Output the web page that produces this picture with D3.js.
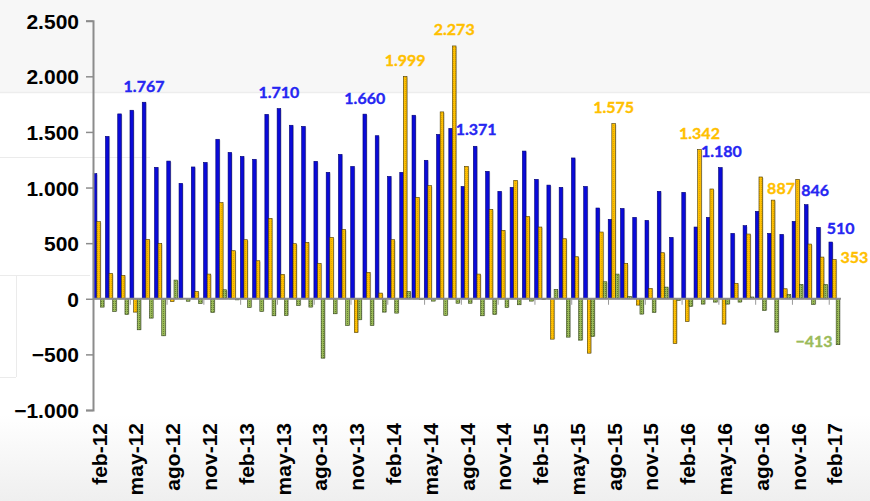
<!DOCTYPE html>
<html><head><meta charset="utf-8">
<script src="https://cdn.jsdelivr.net/npm/d3@7"></script>
<style>html,body{margin:0;padding:0;background:#fff;}svg{display:block;}</style>
</head><body>
<svg id="chart" width="870" height="501"></svg>
<script>
// ---- data ----
const months = ["feb-12","mar-12","abr-12","may-12","jun-12","jul-12","ago-12","sep-12","oct-12","nov-12","dic-12","ene-13",
"feb-13","mar-13","abr-13","may-13","jun-13","jul-13","ago-13","sep-13","oct-13","nov-13","dic-13","ene-14",
"feb-14","mar-14","abr-14","may-14","jun-14","jul-14","ago-14","sep-14","oct-14","nov-14","dic-14","ene-15",
"feb-15","mar-15","abr-15","may-15","jun-15","jul-15","ago-15","sep-15","oct-15","nov-15","dic-15","ene-16",
"feb-16","mar-16","abr-16","may-16","jun-16","jul-16","ago-16","sep-16","oct-16","nov-16","dic-16","ene-17","feb-17"];
const blueValues = [1125,1460,1662,1695,1767,1182,1238,1038,1185,1226,1434,1316,
1280,1254,1658,1710,1560,1550,1236,1137,1298,1190,1660,1466,
1100,1137,1650,1245,1478,1532,1010,1371,1146,966,1002,1328,
1074,1022,1002,1266,1010,816,714,812,732,705,966,552,
957,645,732,1180,588,657,786,588,579,696,846,642,510];
const orangeValues = [693,228,210,-120,534,498,-25,0,66,222,864,432,
531,342,723,219,495,507,318,552,624,-303,237,51,
531,1999,912,1017,1680,2273,1191,222,804,615,1065,741,
645,-363,540,378,-489,600,1575,318,-57,93,414,-402,
-204,1342,987,-228,138,582,1095,887,90,1074,492,375,353];
const greenValues = [-75,-114,-141,-279,-174,-333,168,-22,-42,-123,81,-10,
-78,-114,-153,-150,-60,-75,-534,-135,-240,-189,-240,-120,
-129,66,-8,-21,-150,-40,-40,-153,-141,-78,-54,-21,
-8,84,-345,-372,-339,153,222,22,-138,-123,105,-15,
-69,-48,-30,-48,-30,16,-105,-300,39,129,-51,129,-413];
const seriesNames = ["blue","orange","green"];
const yTicks = [-1000,-500,0,500,1000,1500,2000,2500];
const labelledPoints = [ // series, month index
  ["blue",4],["blue",15],["blue",22],["blue",31],["blue",51],["blue",58],["blue",60],
  ["orange",25],["orange",29],["orange",42],["orange",49],["orange",55],["orange",60],
  ["green",60]
];
// label offsets (layout only)
const labelOffsets = {
  "blue-4":[0,-17],"blue-15":[0,-17],"blue-22":[0,-17],"blue-31":[1,-18],"blue-51":[1,-17],"blue-58":[9,-15],"blue-60":[10,-15],
  "orange-25":[0,-17],"orange-29":[0,-17],"orange-42":[0,-17],"orange-49":[0,-17],"orange-55":[8,-13],"orange-60":[20,-3],
  "green-60":[-24,-4]
};

// ---- layout ----
const svg = d3.select("#chart");
const W = 870, H = 501;
const colors = {blue:"#0a0ad8", orange:"#ffc000", green:"#94b356"};
const labelColors = {blue:"#2626f2", orange:"#ffc000", green:"#9bbb59"};
const valuesBySeries = {blue:blueValues, orange:orangeValues, green:greenValues};

// background artifacts
const defs = svg.append("defs");
const bg = defs.append("linearGradient").attr("id","bottomGrad").attr("x1",0).attr("y1",0).attr("x2",0).attr("y2",1);
bg.append("stop").attr("offset","0%").attr("stop-color","#ffffff");
bg.append("stop").attr("offset","100%").attr("stop-color","#efefef");
svg.append("rect").attr("x",0).attr("y",0).attr("width",W).attr("height",H).attr("fill","#fff");
svg.append("rect").attr("x",0).attr("y",0).attr("width",W).attr("height",92).attr("fill","#f7f7f7");
svg.append("line").attr("x1",0).attr("x2",W).attr("y1",92.5).attr("y2",92.5).attr("stroke","#ededed").attr("stroke-width",1.5);
svg.append("rect").attr("x",0).attr("y",415).attr("width",W).attr("height",H-415).attr("fill","url(#bottomGrad)");
svg.append("line").attr("x1",0).attr("x2",150).attr("y1",157.5).attr("y2",157.5).attr("stroke","#ebebeb");
svg.append("line").attr("x1",0).attr("x2",90).attr("y1",275.5).attr("y2",275.5).attr("stroke","#ebebeb");
svg.append("line").attr("x1",16.5).attr("x2",16.5).attr("y1",275).attr("y2",377).attr("stroke","#ebebeb");
svg.append("line").attr("x1",0).attr("x2",16).attr("y1",377.5).attr("y2",377.5).attr("stroke","#ebebeb");

// patterns
const pO = defs.append("pattern").attr("id","patOrange").attr("patternUnits","userSpaceOnUse").attr("width",2).attr("height",2);
pO.append("rect").attr("width",2).attr("height",2).attr("fill","#ffc000");
pO.append("rect").attr("x",1).attr("y",1).attr("width",0.8).attr("height",0.8).attr("fill","#b07a00").attr("opacity",0.6);
const pG = defs.append("pattern").attr("id","patGreen").attr("patternUnits","userSpaceOnUse").attr("width",2).attr("height",2);
pG.append("rect").attr("width",2).attr("height",2).attr("fill","#9bbb59");
pG.append("rect").attr("x",1).attr("y",1).attr("width",0.9).attr("height",0.9).attr("fill","#3e5219").attr("opacity",0.7);
const fills = {blue:colors.blue, orange:"url(#patOrange)", green:"url(#patGreen)"};
const strokes = {blue:"#000070", orange:"#4a3a00", green:"#34461a"};

const x0 = d3.scaleBand().domain(months).range([93, 841]).paddingInner(0).paddingOuter(0);
const x1 = d3.scaleBand().domain(seriesNames).range([0.2, x0.bandwidth()*0.9]).padding(0);
const y = d3.scaleLinear().domain([-1000, 2500]).range([410, 20.7]);

// bars
const g = svg.append("g");
seriesNames.forEach(s => {
  const vals = valuesBySeries[s];
  g.selectAll(null).data(months).enter().append("rect")
    .attr("x", (m,i) => x0(m) + x1(s) + 1)
    .attr("y", (m,i) => Math.min(y(vals[i]), y(0)) + (vals[i] >= 0 ? 1 : 0))
    .attr("width", x1.bandwidth())
    .attr("height", (m,i) => Math.abs(y(vals[i]) - y(0)))
    .attr("fill", "#bbbbbb").attr("opacity", 0.6);
});
seriesNames.forEach(s => {
  const vals = valuesBySeries[s];
  g.selectAll(null).data(months).enter().append("rect")
    .attr("x", (m,i) => x0(m) + x1(s))
    .attr("y", (m,i) => Math.min(y(vals[i]), y(0)))
    .attr("width", x1.bandwidth())
    .attr("height", (m,i) => Math.abs(y(vals[i]) - y(0)))
    .attr("fill", fills[s])
    .attr("stroke", (m,i) => vals[i] === 0 ? "none" : strokes[s])
    .attr("stroke-width", 0.6);
});

// zero line
svg.append("line").attr("x1", 93).attr("x2", 841).attr("y1", y(0)).attr("y2", y(0))
  .attr("stroke", "#8c8c8c").attr("stroke-width", 2);
// category ticks every 3 months
const tickMonths = months.filter((m,i) => i % 3 === 0);
svg.selectAll(null).data(tickMonths).enter().append("line")
  .attr("x1", m => x0(m) + 0.5).attr("x2", m => x0(m) + 0.5)
  .attr("y1", y(0)).attr("y2", y(0) + 6)
  .attr("stroke", "#999").attr("stroke-width", 1);

// y axis
const yAxis = d3.axisLeft(y).tickValues(yTicks).tickSize(7).tickPadding(7)
  .tickFormat(d => d3.format(",")(d).replace(/,/g, "."));
const ya = svg.append("g").attr("transform", "translate(93,0)").call(yAxis);
ya.select(".domain").attr("stroke", "#8c8c8c").attr("stroke-width", 2);
ya.selectAll(".tick line").attr("stroke", "#8c8c8c").attr("stroke-width", 1.5);
ya.selectAll(".tick text").attr("font-family", "'Liberation Sans', Arial, sans-serif")
  .attr("font-weight", "bold").attr("font-size", "21px").attr("fill", "#000").attr("dy", "0.36em");

// x labels
svg.selectAll(null).data(tickMonths).enter().append("text")
  .attr("transform", m => `translate(${x0(m) + x0.bandwidth()/2},423) rotate(-90)`)
  .attr("text-anchor", "end").attr("dy", "0.36em")
  .attr("font-family", "'Liberation Sans', Arial, sans-serif").attr("font-weight", "bold")
  .attr("font-size", "21px").attr("fill", "#000")
  .text(m => m);

// value labels
const fmt = v => d3.format(",")(v).replace(/,/g, ".");
svg.selectAll(null).data(labelledPoints).enter().append("text")
  .attr("x", d => x0(months[d[1]]) + x1(d[0]) + x1.bandwidth()/2 + labelOffsets[d[0]+"-"+d[1]][0])
  .attr("y", d => y(valuesBySeries[d[0]][d[1]]) + labelOffsets[d[0]+"-"+d[1]][1])
  .attr("text-anchor", "middle").attr("dominant-baseline", "central")
  .attr("font-family", "Lato, 'Open Sans', sans-serif").attr("font-weight", "bold").attr("font-size", "16px")
  .attr("fill", d => labelColors[d[0]])
  .attr("stroke", d => labelColors[d[0]]).attr("stroke-width", 0.35)
  .text(d => fmt(valuesBySeries[d[0]][d[1]]));
</script>
</body></html>
